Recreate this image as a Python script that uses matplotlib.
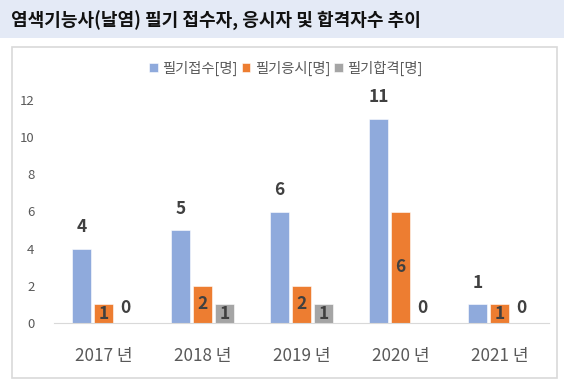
import numpy as np
import matplotlib
matplotlib.use("Agg")
import matplotlib.pyplot as plt
from matplotlib.patches import Rectangle

plt.rcParams['font.family'] = ['Noto Sans CJK KR', 'DejaVu Sans']

# data
years = ['2017 년', '2018 년', '2019 년', '2020 년', '2021 년']
applied = [4, 5, 6, 11, 1]      # 필기접수
attended = [1, 2, 2, 6, 1]      # 필기응시
passed = [0, 1, 1, 0, 0]        # 필기합격
series_names = ['필기접수[명]', '필기응시[명]', '필기합격[명]']
colors = ['#8FAADC', '#ED7D31', '#A5A5A5']

W, H = 564, 383
fig = plt.figure(figsize=(W / 100, H / 100), dpi=100)

# header band and card
fig.patches.append(Rectangle((0, 1 - 38 / H), 1, 38 / H, transform=fig.transFigure,
                             facecolor='#E4EAF6', edgecolor='none', zorder=0))
fig.patches.append(Rectangle((12 / W, 1 - 378 / H), 545 / W, 331 / H, transform=fig.transFigure,
                             facecolor='none', edgecolor='#D9D9D9', lw=1.2, zorder=0))
fig.text(11 / W, 1 - 21 / H, '염색기능사(날염) 필기 접수자, 응시자 및 합격자수 추이',
         fontsize=13, fontweight='bold', color='#111111', va='center', ha='left')

ax = fig.add_axes([54 / W, 1 - 323 / H, (549 - 54) / W, (323 - 100) / H])
x = np.arange(len(years))
bw = 0.185
step = 0.222
all_series = [applied, attended, passed]
for i, vals in enumerate(all_series):
    ax.bar(x + (i - 1) * step, vals, bw, color=colors[i], label=series_names[i],
           edgecolor='white', linewidth=0.4, zorder=2)

lab_kw = dict(fontsize=12.5, fontweight='bold', color='#404040', ha='center', va='center')
for xi, v in zip(x, applied):
    ax.text(xi - step, v + 1.15, str(v), **lab_kw)
for xi, v in zip(x, attended):
    ax.text(xi, v / 2, str(v), **lab_kw)
for xi, v in zip(x, passed):
    ax.text(xi + step, v / 2 if v > 0 else 0.8, str(v), **lab_kw)

ax.set_xlim(-0.5, 4.5)
ax.set_ylim(0, 12)
ax.set_yticks(range(0, 13, 2))
ax.set_xticks(x)
ax.set_xticklabels(years, fontsize=12.3, color='#595959')
ax.tick_params(axis='y', length=0, labelsize=9.5, labelcolor='#595959', pad=14)
ax.tick_params(axis='x', length=0, pad=17)
for s in ['left', 'right', 'top']:
    ax.spines[s].set_visible(False)
ax.spines['bottom'].set_color('#D9D9D9')
ax.patch.set_alpha(0)

ax.legend(loc='center', bbox_to_anchor=(286 / W, 1 - 68 / H), bbox_transform=fig.transFigure,
          ncol=3, frameon=False, fontsize=10.3, handlelength=0.6, handleheight=0.6,
          handletextpad=0.3, columnspacing=0.3, labelcolor='#595959')

fig.savefig('out.png', dpi=100)
